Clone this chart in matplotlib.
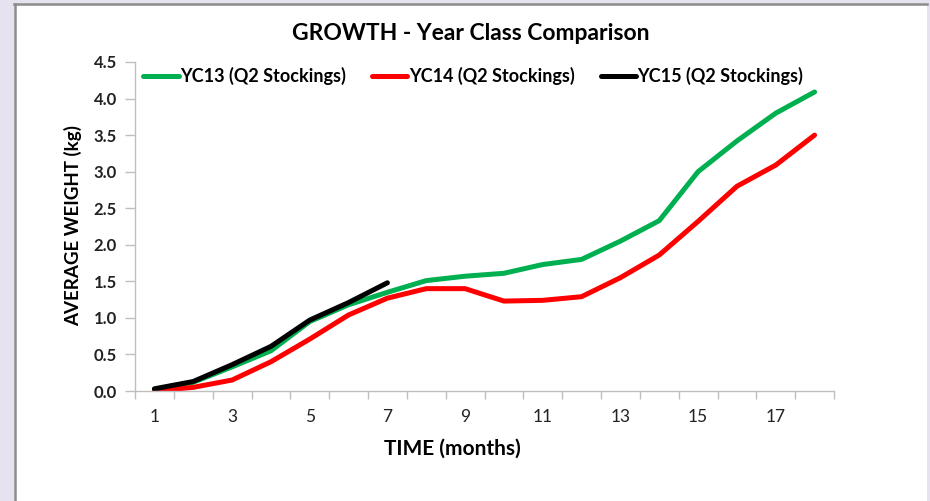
import matplotlib
matplotlib.use("Agg")
import matplotlib.pyplot as plt
from matplotlib.patches import Rectangle
from matplotlib.lines import Line2D

months = list(range(1, 19))
yc13 = [0.02, 0.12, 0.33, 0.55, 0.95, 1.18, 1.35, 1.51, 1.57, 1.61, 1.73, 1.80, 2.05, 2.33, 3.00, 3.42, 3.80, 4.09]
yc14 = [0.00, 0.05, 0.15, 0.40, 0.71, 1.04, 1.27, 1.40, 1.40, 1.23, 1.24, 1.29, 1.55, 1.86, 2.32, 2.80, 3.09, 3.50]
yc15 = [0.03, 0.13, 0.36, 0.61, 0.97, 1.21, 1.48]
labels = ["YC13 (Q2 Stockings)", "YC14 (Q2 Stockings)", "YC15 (Q2 Stockings)"]
colors = ["#00B050", "#FF0000", "#000000"]
xticks = [1, 3, 5, 7, 9, 11, 13, 15, 17]
yticks = [0.0, 0.5, 1.0, 1.5, 2.0, 2.5, 3.0, 3.5, 4.0, 4.5]

FONT = "Lato"
W, H = 930, 501
fig = plt.figure(figsize=(W/100, H/100), dpi=100)
fig.patch.set_facecolor("#E6E2EF")
# white panel with grey top/left border
fig.patches.append(Rectangle((14/W, 0), (927-14)/W, (H-4)/H, transform=fig.transFigure,
                             facecolor="white", edgecolor="none", zorder=-10))
fig.lines.append(Line2D([14/W, 927/W], [1-4/H, 1-4/H], transform=fig.transFigure,
                        color="#8C8C8C", lw=1.8, zorder=-5))
fig.lines.append(Line2D([15/W, 15/W], [0, 1-4/H], transform=fig.transFigure,
                        color="#8C8C8C", lw=1.8, zorder=-5))

AX_L, AX_R, AX_T, AX_B = 135, 834, 62, 391
ax = fig.add_axes([AX_L/W, 1-AX_B/H, (AX_R-AX_L)/W, (AX_B-AX_T)/H])
ax.set_zorder(5)
ax.set_facecolor("none")

series = [yc13, yc14, yc15]
for s, lab, c in zip(series, labels, colors):
    ax.plot(months[:len(s)], s, color=c, lw=3.6, label=lab, solid_capstyle="round",
            solid_joinstyle="round")

ax.set_xlim(0.5, 18.5)
ax.set_ylim(0, 4.5)
ax.set_xticks(xticks)
ax.set_xticks([i + 0.5 for i in range(0, 19)], minor=True)
ax.set_yticks(yticks)
ax.set_yticklabels([f"{v:.1f}" for v in yticks], fontfamily=FONT, fontweight="bold", fontsize=12)
ax.set_xticklabels([str(v) for v in xticks], fontfamily=FONT, fontsize=12.5)
ax.tick_params(axis="x", which="major", length=0, pad=13, colors="#222222")
ax.tick_params(axis="x", which="minor", length=6, color="#BFBFBF", width=1)
ax.tick_params(axis="y", length=7, width=1, pad=6, colors="#222222")
ax.tick_params(axis="y", color="#BFBFBF")
for sp in ["top", "right"]:
    ax.spines[sp].set_visible(False)
for sp in ["left", "bottom"]:
    ax.spines[sp].set_color("#BFBFBF")
    ax.spines[sp].set_linewidth(1)

fig.text(452/W, 1-449/H, "TIME (months)", ha="center", va="center",
         fontfamily=FONT, fontweight="bold", fontsize=15)
fig.text(73/W, 1-226/H, "AVERAGE WEIGHT (kg)", ha="center", va="center", rotation=90,
         fontfamily=FONT, fontweight="bold", fontsize=13.5)
fig.text(471/W, 1-33/H, "GROWTH - Year Class Comparison", ha="center", va="center",
         fontfamily=FONT, fontweight="bold", fontsize=16.5)

leg = ax.legend(loc="center left", bbox_to_anchor=((142-AX_L)/(AX_R-AX_L) + 0.002, (AX_B-76)/(AX_B-AX_T)),
                ncol=3, frameon=False, borderaxespad=0, borderpad=0,
                handlelength=1.95, handletextpad=0.08, columnspacing=1.45,
                prop={"family": FONT, "weight": "bold", "size": 13})

fig.savefig("out.png", dpi=100)
